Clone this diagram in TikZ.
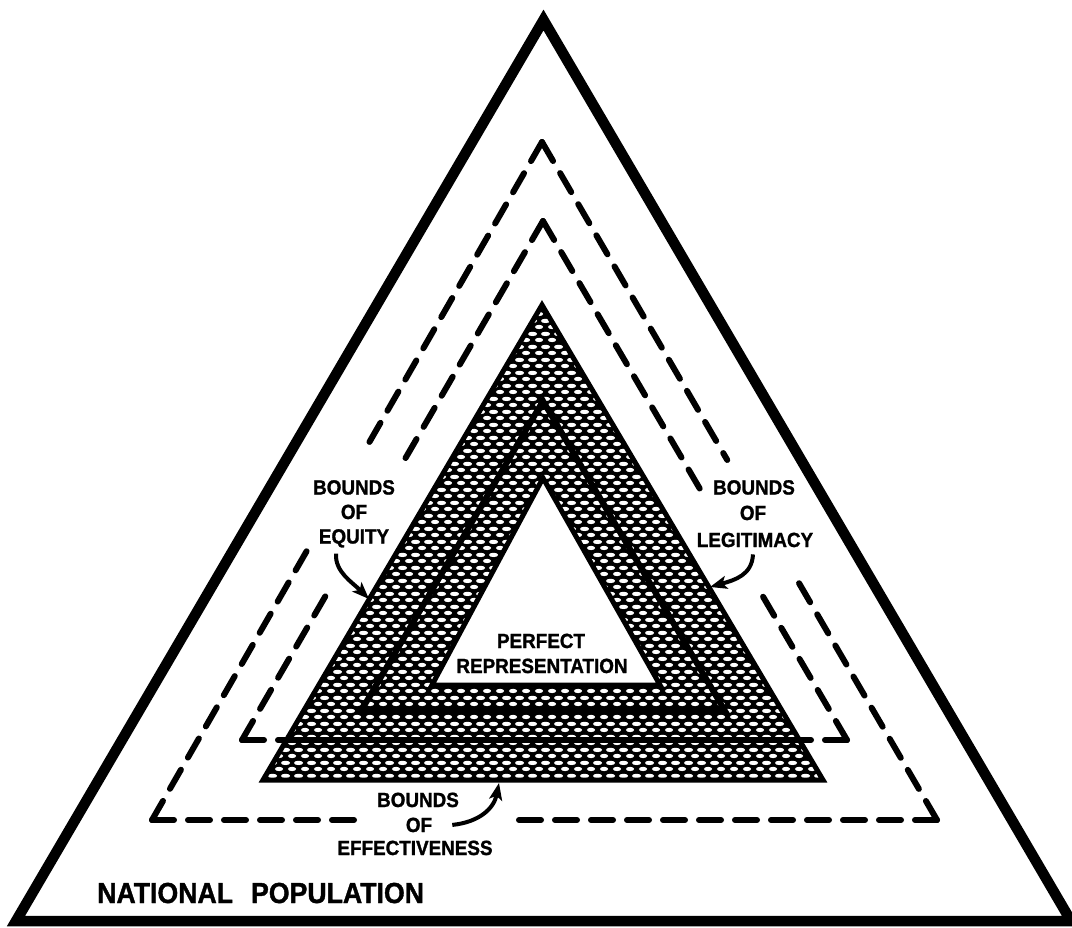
\documentclass[tikz,border=0pt]{standalone}
\usepackage{fontspec}
\setmainfont{Liberation Sans}[FakeStretch=0.92, BoldFeatures={FakeBold=1.3}]
\usetikzlibrary{arrows.meta,patterns,calc}
\pgfdeclarepatternformonly{ovals}{\pgfpointorigin}{\pgfpoint{13pt}{13pt}}{\pgfpoint{13pt}{13pt}}{%
  \pgfpathellipse{\pgfpoint{6.5pt}{3.25pt}}{\pgfpoint{4.4pt}{0pt}}{\pgfpoint{0pt}{2.3pt}}%
  \pgfpathellipse{\pgfpoint{0pt}{9.75pt}}{\pgfpoint{4.4pt}{0pt}}{\pgfpoint{0pt}{2.3pt}}%
  \pgfpathellipse{\pgfpoint{13pt}{9.75pt}}{\pgfpoint{4.4pt}{0pt}}{\pgfpoint{0pt}{2.3pt}}%
  \pgfusepath{fill}}
\begin{document}
\begin{tikzpicture}[x=1pt,y=-1pt,
  outerline/.style={line width=10.5pt, line join=miter},
  dashline/.style={line width=6pt, dash pattern=on 22pt off 14pt, line cap=round},
  solidband/.style={line width=6pt},
  edgeline/.style={line width=5pt, line join=miter},
  lab/.style={font=\bfseries\fontsize{20.5}{20.5}\selectfont, inner sep=0pt, anchor=base},
  biglab/.style={font=\bfseries\fontsize{29}{29}\selectfont, inner sep=0pt, anchor=base west},
  arr/.style={line width=4pt, -{Stealth[length=17pt,width=13pt,inset=4pt]}}
]
\useasboundingbox (0,0) rectangle (1072,928);
\fill[white] (0,0) rectangle (1072,928);

% outer triangle
\coordinate (O1) at (543.5,20);
\coordinate (O2) at (16,921);
\coordinate (O3) at (1071,921);
\draw[outerline] (O1) -- (O2) -- (O3) -- cycle;

% outer dashed triangle
\coordinate (A1) at (542,142);
\coordinate (B1) at (152,820);
\coordinate (C1) at (937,820);
\draw[dashline] (A1) -- ($(A1)!0.45!(B1)$);
\draw[dashline] (A1) -- ($(A1)!0.469!(C1)$);
\draw[dashline] (B1) -- ($(B1)!0.401!(A1)$);
\draw[dashline] (C1) -- ($(C1)!0.361!(A1)$);
\draw[dashline] (B1) -- (355,820);
\draw[dashline] (C1) -- (510,820);

% inner dashed triangle
\coordinate (A2) at (543,221);
\coordinate (B2) at (242,740);
\coordinate (C2) at (847,740);
\draw[dashline] (A2) -- ($(A2)!0.46!(B2)$);
\draw[dashline] (A2) -- ($(A2)!0.524!(C2)$);
\draw[dashline] (B2) -- ($(B2)!0.285!(A2)$);
\draw[dashline] (C2) -- ($(C2)!0.276!(A2)$);
\draw[dashline] (B2) -- (545,740);
\draw[dashline] (C2) -- (545,740);

% hatched triangle
\coordinate (H1) at (542,305);
\coordinate (H2) at (263,780);
\coordinate (H3) at (823,780);
\fill[black] (H1) -- (H2) -- (H3) -- cycle;
\fill[pattern=ovals, pattern color=white] (H1) -- (H2) -- (H3) -- cycle;
\draw[edgeline] (H1) -- (H2) -- (H3) -- cycle;

% solid band of inner dashed bottom through hatched area
\coordinate (D1) at (286,740);
\coordinate (D2) at (800,740);
\draw[solidband] (D1) -- (D2);

% inner line triangle
\coordinate (I1) at (543,401);
\coordinate (I2) at (361,711);
\coordinate (I3) at (725,711);
\draw[solidband, line join=miter] (I1) -- (I2) -- (I3) -- cycle;

% white triangle
\coordinate (W1) at (543,478);
\coordinate (W2) at (432,685);
\coordinate (W3) at (660,685);
\filldraw[fill=white, draw=black, edgeline] (W1) -- (W2) -- (W3) -- cycle;

% labels
\node[lab] (eq1) at (354,494.5) {BOUNDS};
\node[lab] (eq2) at (354,519) {OF};
\node[lab] (eq3) at (354,543.5) {EQUITY};
\node[lab] (lg1) at (754,494.5) {BOUNDS};
\node[lab] (lg2) at (753,520) {OF};
\node[lab] (lg3) at (755,547) {LEGITIMACY};
\node[lab] (ef1) at (418,807) {BOUNDS};
\node[lab] (ef2) at (419,832) {OF};
\node[lab] (ef3) at (415,855) {EFFECTIVENESS};
\node[lab] (pr1) at (541,648) {PERFECT};
\node[lab] (pr2) at (542,673) {REPRESENTATION};
\node[biglab] (np) at (97,903) {NATIONAL\hspace{18pt}POPULATION};

% arrow targets on the hatched triangle
\coordinate (eqt) at (369,599);
\coordinate (lgt) at (710,587);
\coordinate (eft) at (499,783);

\draw[arr] ([xshift=-18pt,yshift=-6pt]eq3.south) .. controls (335,572) and (352,582) .. (eqt);
\draw[arr] ([xshift=-2pt,yshift=-7pt]lg3.south) .. controls (752,575) and (735,580) .. (lgt);
\draw[arr] ([xshift=20pt]ef2.east) .. controls (480,822) and (494,808) .. (eft);
\end{tikzpicture}
\end{document}
